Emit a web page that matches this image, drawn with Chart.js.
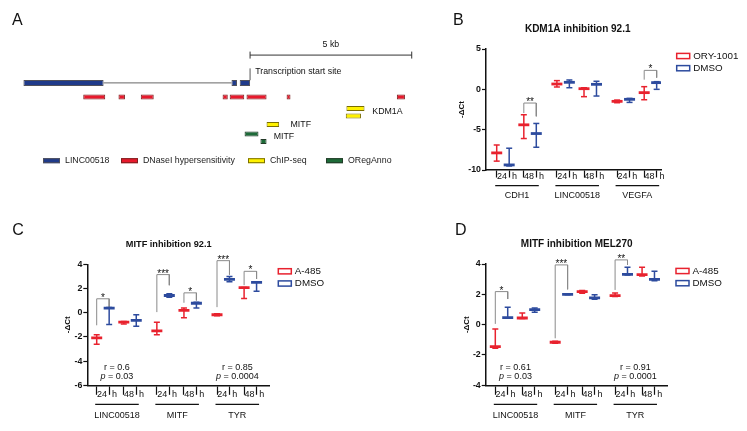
<!DOCTYPE html>
<html>
<head>
<meta charset="utf-8">
<title>LINC00518 locus and expression</title>
<script src="https://cdn.jsdelivr.net/npm/chart.js@4.4.1/dist/chart.umd.min.js"></script>
<style>
  html, body { margin: 0; padding: 0; background: #fff; }
  body { position: relative; width: 747px; height: 431px; overflow: hidden; }
  canvas { position: absolute; }
</style>
</head>
<body>
<canvas id="chartA" width="440" height="200" style="left:0;top:0"></canvas>
<canvas id="chartB" width="307" height="210" style="left:440px;top:0"></canvas>
<canvas id="chartC" width="370" height="221" style="left:0;top:210px"></canvas>
<canvas id="chartD" width="377" height="221" style="left:370px;top:210px"></canvas>
<script>
var FONT = '"Liberation Sans", Arial, Helvetica, sans-serif';
Chart.defaults.font.family = FONT;
Chart.defaults.color = '#111';

// ---------- panel A: locus, kb relative to the transcription start site ----------
var geneExons = [[-7.01, -4.53], [-0.575, -0.405], [-0.32, 0]];
var geneIntron = [-4.53, -0.575];
var dnaseSites = [[-5.16, -4.48], [-4.07, -3.87], [-3.38, -2.98], [-0.85, -0.69], [-0.63, -0.18], [-0.11, 0.51], [1.13, 1.25], [4.54, 4.79]];
var chipKdm1a = [[2.98, 3.54], [2.96, 3.43]];
var chipMitf = [[0.51, 0.9]];
var oregMitf = [[-0.17, 0.26], [0.32, 0.51]];
var scaleBarKb = [0, 5];
var trackNames = ['LINC00518', 'DNaseI hypersensitivity', 'ChIP-seq', 'ORegAnno'];

// ---------- panels B-D: -dCt, mean / min / max, order: gene1 24h, gene1 48h, gene2 24h ... ----------
var slotX = [0, 0.46, 1, 1.46, 2.22, 2.68, 3.22, 3.68, 4.44, 4.9, 5.44, 5.9];
var slotLabels = ['24', 'h', '48', 'h', '24', 'h', '48', 'h', '24', 'h', '48', 'h'];

var genesB = ['CDH1', 'LINC00518', 'VEGFA'];
var seriesB = ['ORY-1001', 'DMSO'];
var yTicksB = [-10, -5, 0, 5];
var oryMeanB = [-7.88, -4.4, 0.66, 0.08, -1.49, -0.41];
var oryMinB = [-8.9, -6.1, 0.29, -0.91, -1.66, -1.29];
var oryMaxB = [-6.9, -3.15, 1.08, 0.2, -1.33, 0.33];
var dmsoMeanB = [-9.37, -5.48, 0.87, 0.62, -1.24, 0.83];
var dmsoMinB = [-9.5, -7.18, 0.2, -0.83, -1.62, 0.0];
var dmsoMaxB = [-7.3, -4.23, 1.16, 1.0, -1.12, 0.95];
// [left slot, right slot, left end, top, right end, stars]
var bracketsB = [[2, 3, -2.94, -1.7, -3.35, '**'], [10, 11, 1.2, 2.35, 1.45, '*']];

var genesC = ['LINC00518', 'MITF', 'TYR'];
var seriesC = ['A-485', 'DMSO'];
var yTicksC = [-6, -4, -2, 0, 2, 4];
var a485MeanC = [-2.08, -0.78, -1.5, 0.19, -0.17, 2.08];
var a485MinC = [-2.6, -0.94, -1.83, -0.42, -0.25, 1.17];
var a485MaxC = [-1.83, -0.72, -0.78, 0.39, -0.08, 2.08];
var dmsoMeanC = [0.38, -0.64, 1.42, 0.78, 2.75, 2.5];
var dmsoMinC = [-0.97, -1.11, 1.28, 0.39, 2.56, 1.78];
var dmsoMaxC = [0.42, -0.17, 1.56, 0.86, 3.0, 2.56];
var bracketsC = [[0, 1, -1.04, 1.15, 0.46, '*'], [4, 5, 0.05, 3.15, 2.27, '***'], [6, 7, 0.82, 1.64, 1.01, '*'],
                 [8, 9, 0.46, 4.3, 3.15, '***'], [10, 11, 2.27, 3.42, 2.79, '*']];
var statsC = [[0, '0.6', '0.03'], [2, '0.85', '0.0004']];

var genesD = ['LINC00518', 'MITF', 'TYR'];
var seriesD = ['A-485', 'DMSO'];
var yTicksD = [-4, -2, 0, 2, 4];
var a485MeanD = [-1.45, 0.44, -1.16, 2.18, 1.91, 3.3];
var a485MinD = [-1.56, 0.4, -1.23, 2.07, 1.85, 3.21];
var a485MaxD = [-0.29, 0.77, -1.1, 2.26, 2.09, 3.78];
var dmsoMeanD = [0.46, 0.99, 2.0, 1.76, 3.32, 2.99];
var dmsoMinD = [0.42, 0.81, 1.98, 1.67, 3.27, 2.9];
var dmsoMaxD = [1.14, 1.1, 2.02, 1.98, 3.78, 3.52];
var bracketsD = [[0, 1, 0.05, 2.18, 1.69, '*'], [4, 5, -0.9, 3.94, 2.33, '***'], [8, 9, 2.29, 4.27, 3.94, '**']];
var statsD = [[0, '0.61', '0.03'], [2, '0.91', '0.0001']];

// ---------- styles / layout ----------
var trackColors = ['#1f3a8a', '#e8192c', '#fff200', '#1d6b38'];
var trackEdges = ['#50505a', '#7a2020', '#7a6e00', '#233a28'];
var seriesColors = ['#e8222e', '#2d4b9e'];
// vertical lane of each locus row (8 px per lane unit)
var lanes = { gene: 0, dnase: 1.85, kdm1a: [3.38, 4.34], mitfChip: 5.48, oreg: [6.71, 7.71], tssTop: -1.91, geneTop: -0.35, scaleBar: -3.66 };
var locusLabels = [
  { text: '5 kb', x: 2.5, y: -5.0, align: 'center' },
  { text: 'Transcription start site', x: 0.16, y: -1.5, align: 'left' },
  { text: 'KDM1A', x: 3.78, y: 3.79, align: 'left' },
  { text: 'MITF', x: 1.25, y: 5.5, align: 'left' },
  { text: 'MITF', x: 0.73, y: 7.1, align: 'left' }
];
var legendAX = [43, 121, 248, 326];

function trackBars(segs, lane, ti, thick) {
  return {
    type: 'bar', indexAxis: 'y', grouped: false, order: 0,
    data: segs.map(function (s, i) { return { x: s, y: Array.isArray(lane) ? lane[i] : lane }; }),
    backgroundColor: trackColors[ti], borderColor: trackEdges[ti], borderWidth: 1,
    borderSkipped: false, barThickness: thick, inflateAmount: 0
  };
}

var locusText = {
  id: 'locusText',
  afterDatasetsDraw: function (chart) {
    var ctx = chart.ctx, xs = chart.scales.x, ys = chart.scales.y;
    ctx.save();
    ctx.fillStyle = '#111';
    ctx.font = '16px ' + FONT;
    ctx.textBaseline = 'alphabetic';
    ctx.fillText('A', 12, 25);
    ctx.font = '8.8px ' + FONT;
    ctx.textBaseline = 'middle';
    locusLabels.forEach(function (l) {
      ctx.textAlign = l.align;
      ctx.fillText(l.text, xs.getPixelForValue(l.x), ys.getPixelForValue(l.y));
    });
    ctx.textAlign = 'left';
    trackNames.forEach(function (name, i) {
      ctx.fillStyle = trackColors[i];
      ctx.fillRect(legendAX[i], 158.2, 17, 5);
      ctx.strokeStyle = trackEdges[i];
      ctx.lineWidth = 1;
      ctx.strokeRect(legendAX[i] + 0.5, 158.7, 16, 4);
      ctx.fillStyle = '#222';
      ctx.fillText(name, legendAX[i] + 22, 160.7);
    });
    ctx.restore();
  }
};

new Chart(document.getElementById('chartA'), {
  type: 'scatter',
  data: {
    datasets: [
      trackBars(geneExons, lanes.gene, 0, 6),
      trackBars(dnaseSites, lanes.dnase, 1, 5),
      trackBars(chipKdm1a, lanes.kdm1a, 2, 5),
      trackBars(chipMitf, lanes.mitfChip, 2, 5),
      trackBars(oregMitf, lanes.oreg, 3, 5),
      { type: 'line', order: 1, data: [{ x: geneIntron[0], y: lanes.gene }, { x: geneIntron[1], y: lanes.gene }],
        borderColor: '#666', borderWidth: 1, pointRadius: 0 },
      { type: 'line', order: 1, data: [{ x: 0, y: lanes.geneTop }, { x: 0, y: lanes.tssTop }],
        borderColor: '#555', borderWidth: 1, pointRadius: 0 },
      { type: 'line', order: 1, data: [{ x: scaleBarKb[0], y: lanes.scaleBar }, { x: scaleBarKb[1], y: lanes.scaleBar }],
        borderColor: '#333', borderWidth: 1, pointStyle: 'line', pointRotation: 90, pointRadius: 3.5,
        pointBorderWidth: 1, pointBorderColor: '#333' }
    ]
  },
  options: {
    responsive: false, animation: false, events: [],
    layout: { padding: 0 },
    scales: {
      x: { type: 'linear', display: false, min: -7.58, max: 5.72, offset: false },
      y: { type: 'linear', display: false, min: -10.25, max: 14.75, reverse: true, offset: false }
    },
    plugins: { legend: { display: false }, tooltip: { enabled: false } }
  },
  plugins: [locusText]
});

// ---------- expression panels ----------
function exprDecor(cfg) {
  var L = cfg.layout;
  return {
    id: 'exprDecor' + cfg.letter,
    afterDraw: function (chart) {
      var ctx = chart.ctx, xs = chart.scales.x, ys = chart.scales.y, area = chart.chartArea;
      ctx.save();
      ctx.fillStyle = '#111';
      ctx.strokeStyle = '#111';
      ctx.textBaseline = 'alphabetic';
      ctx.textAlign = 'left';
      ctx.font = '16px ' + FONT;
      ctx.fillText(cfg.letter, L.letterX, 25);

      ctx.textBaseline = 'middle';
      ctx.textAlign = 'center';
      ctx.font = 'bold ' + L.titleSize + 'px ' + FONT;
      ctx.fillText(cfg.title, L.titleX, L.titleY);

      ctx.save();
      ctx.translate(L.yTitleX, (area.top + area.bottom) / 2);
      ctx.rotate(-Math.PI / 2);
      ctx.font = 'bold 8px ' + FONT;
      ctx.fillText('-\u0394Ct', 0, 0);
      ctx.restore();

      // gene groups under the axis
      ctx.font = '9px ' + FONT;
      ctx.lineWidth = 1.2;
      var centers = [];
      cfg.genes.forEach(function (g, gi) {
        var x1 = xs.getPixelForValue(slotX[gi * 4]) - 1.5;
        var x2 = xs.getPixelForValue(slotX[gi * 4 + 3]) + 2.5;
        var y = area.bottom + L.underline;
        ctx.beginPath();
        ctx.moveTo(x1, y);
        ctx.lineTo(x2, y);
        ctx.stroke();
        ctx.fillText(g, (x1 + x2) / 2, area.bottom + L.geneLabel);
        centers.push((x1 + x2) / 2);
      });

      // significance stars
      ctx.textBaseline = 'alphabetic';
      ctx.font = '10px ' + FONT;
      cfg.brackets.forEach(function (b) {
        var cx = (xs.getPixelForValue(slotX[b[0]]) + xs.getPixelForValue(slotX[b[1]])) / 2;
        ctx.fillText(b[5], cx, ys.getPixelForValue(b[3]) + 2);
      });

      // correlation notes
      ctx.textBaseline = 'middle';
      (cfg.stats || []).forEach(function (s) {
        var cx = centers[s[0]];
        ctx.textAlign = 'center';
        ctx.font = '9px ' + FONT;
        ctx.fillText('r = ' + s[1], cx, area.bottom - 18);
        var rest = ' = ' + s[2];
        var wRest = ctx.measureText(rest).width;
        ctx.font = 'italic 9px ' + FONT;
        var wp = ctx.measureText('p').width;
        var left = cx - (wp + wRest) / 2;
        ctx.textAlign = 'left';
        ctx.fillText('p', left, area.bottom - 8.6);
        ctx.font = '9px ' + FONT;
        ctx.fillText(rest, left + wp, area.bottom - 8.6);
      });

      // legend
      ctx.textAlign = 'left';
      ctx.font = '9.8px ' + FONT;
      cfg.series.forEach(function (name, s) {
        var bx = area.right + L.legendX, by = area.top + 7 + s * 12.2;
        ctx.strokeStyle = seriesColors[s];
        ctx.lineWidth = 1.5;
        ctx.strokeRect(bx, by - 2.6, 13, 5.2);
        ctx.fillStyle = '#111';
        ctx.fillText(name, bx + 16.5, by);
      });
      ctx.restore();
    }
  };
}

function exprChart(cfg) {
  var L = cfg.layout;
  var datasets = [];
  cfg.series.forEach(function (name, s) {
    var col = seriesColors[s];
    var slot = function (i) { return slotX[Math.floor(i / 2) * 4 + (i % 2) * 2 + s]; };
    var mean = cfg.mean[s], lo = cfg.min[s], hi = cfg.max[s];
    datasets.push({ type: 'bar', label: name, order: 3, grouped: false, barThickness: 1.5, inflateAmount: 0,
      backgroundColor: col, data: mean.map(function (m, i) { return { x: slot(i), y: [lo[i], hi[i]] }; }) });
    datasets.push({ type: 'scatter', order: 1, showLine: false, pointStyle: 'line', pointRadius: 5.5,
      pointBorderWidth: 2.8, pointBorderColor: col, borderColor: col,
      data: mean.map(function (m, i) { return { x: slot(i), y: m }; }) });
    [lo, hi].forEach(function (arr) {
      datasets.push({ type: 'scatter', order: 2, showLine: false, pointStyle: 'line', pointRadius: 3,
        pointBorderWidth: 1.5, pointBorderColor: col, borderColor: col,
        data: arr.map(function (v, i) { return { x: slot(i), y: v }; }) });
    });
  });
  cfg.brackets.forEach(function (b) {
    datasets.push({ type: 'line', order: 4, clip: false, borderColor: '#8a8a8a', borderWidth: 1,
      pointRadius: 0, tension: 0,
      data: [{ x: slotX[b[0]], y: b[2] }, { x: slotX[b[0]], y: b[3] }, { x: slotX[b[1]], y: b[3] }, { x: slotX[b[1]], y: b[4] }] });
  });

  return new Chart(document.getElementById(cfg.canvas), {
    type: 'scatter',
    data: { datasets: datasets },
    options: {
      responsive: false, animation: false, events: [],
      layout: { padding: L.pad },
      scales: {
        x: {
          type: 'linear', min: L.xMin, max: L.xMax, offset: false,
          afterBuildTicks: function (sc) { sc.ticks = slotX.map(function (v) { return { value: v }; }); },
          afterFit: function (sc) { sc.height = L.xHeight; },
          grid: { drawOnChartArea: false, offset: false, tickLength: L.tickLen, tickWidth: 1.2, tickColor: '#111' },
          border: { color: '#111', width: 1.5 },
          ticks: { autoSkip: false, maxRotation: 0, minRotation: 0, padding: L.tickPad, labelOffset: 5.3,
            font: { size: 9 }, color: '#111',
            callback: function (v, i) { return slotLabels[i]; } }
        },
        y: {
          type: 'linear', min: cfg.yTicks[0], max: cfg.yTicks[cfg.yTicks.length - 1],
          afterBuildTicks: function (sc) { sc.ticks = cfg.yTicks.map(function (v) { return { value: v }; }); },
          afterFit: function (sc) { sc.width = L.yWidth; },
          grid: { drawOnChartArea: false, tickLength: 4, tickWidth: 1.2, tickColor: '#111' },
          border: { color: '#111', width: 1.5 },
          ticks: { padding: 1, font: { size: 8.8, weight: 'bold' }, color: '#111' }
        }
      },
      plugins: { legend: { display: false }, tooltip: { enabled: false } }
    },
    plugins: [exprDecor(cfg)]
  });
}

exprChart({
  canvas: 'chartB', letter: 'B', title: 'KDM1A inhibition 92.1', genes: genesB, series: seriesB, yTicks: yTicksB,
  mean: [oryMeanB, dmsoMeanB], min: [oryMinB, dmsoMinB], max: [oryMaxB, dmsoMaxB], brackets: bracketsB,
  layout: { pad: { left: 22, right: 86, top: 49, bottom: 20 }, yWidth: 24, xHeight: 20, xMin: -0.395, xMax: 6.06,
    tickLen: 7.5, tickPad: -6.2, letterX: 13, titleSize: 10, titleX: 137.7, titleY: 29.3, yTitleX: 21.5,
    underline: 15.7, geneLabel: 25.7, legendX: 15.7 }
});

exprChart({
  canvas: 'chartC', letter: 'C', title: 'MITF inhibition 92.1', genes: genesC, series: seriesC, yTicks: yTicksC,
  mean: [a485MeanC, dmsoMeanC], min: [a485MinC, dmsoMinC], max: [a485MaxC, dmsoMaxC], brackets: bracketsC, stats: statsC,
  layout: { pad: { left: 63.3, right: 100.7, top: 54.3, bottom: 23.7 }, yWidth: 24, xHeight: 22, xMin: -0.347, xMax: 6.37,
    tickLen: 9.5, tickPad: -5.2, letterX: 12.3, titleSize: 9.2, titleX: 168.7, titleY: 34.3, yTitleX: 68,
    underline: 19, geneLabel: 30.4, legendX: 9 }
});

exprChart({
  canvas: 'chartD', letter: 'D', title: 'MITF inhibition MEL270', genes: genesD, series: seriesD, yTicks: yTicksD,
  mean: [a485MeanD, dmsoMeanD], min: [a485MinD, dmsoMinD], max: [a485MaxD, dmsoMaxD], brackets: bracketsD, stats: statsD,
  layout: { pad: { left: 91.7, right: 79.3, top: 54, bottom: 23.7 }, yWidth: 24, xHeight: 22, xMin: -0.356, xMax: 6.39,
    tickLen: 9.5, tickPad: -5.2, letterX: 85, titleSize: 10, titleX: 206.7, titleY: 34.3, yTitleX: 96.5,
    underline: 19, geneLabel: 30.4, legendX: 8.3 }
});
</script>
</body>
</html>
